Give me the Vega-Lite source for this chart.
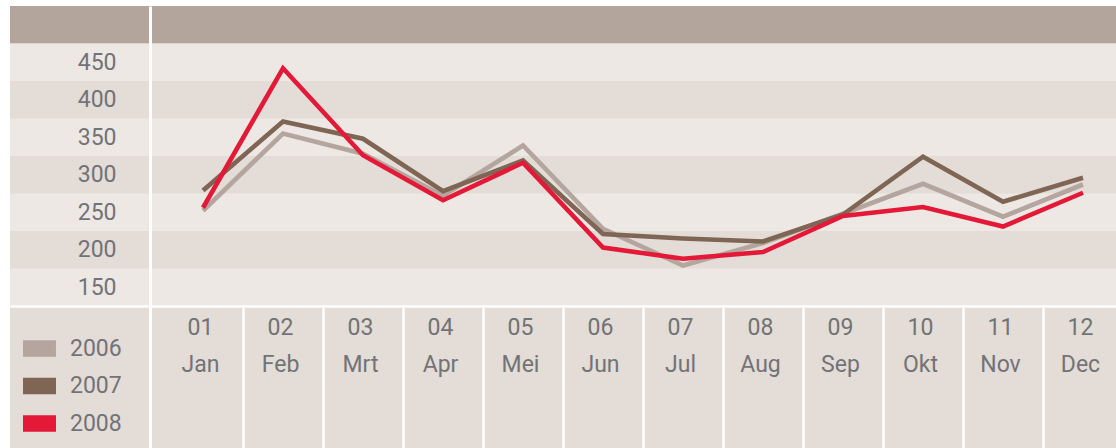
{
  "$schema": "https://vega.github.io/schema/vega-lite/v6.json",
  "width": 1106,
  "height": 442,
  "autosize": {"type": "none"},
  "padding": {"left": 10, "top": 6, "right": 0, "bottom": 0},
  "background": "#ffffff",
  "view": {"fill": "#e3dcd7", "stroke": null},
  "config": {
    "font": "Roboto",
    "axis": {"labelFont": "Roboto", "labelFontWeight": 400, "labelFontSize": 23, "labelColor": "#727376"},
    "legend": {"labelFont": "Roboto", "labelFontWeight": 400, "labelFontSize": 23, "labelColor": "#727376"}
  },
  "datasets": {
    "bands": [
      {"lo": 475, "hi": 525, "tone": "head"},
      {"lo": 425, "hi": 475, "tone": "light"},
      {"lo": 375, "hi": 425, "tone": "dark"},
      {"lo": 325, "hi": 375, "tone": "light"},
      {"lo": 275, "hi": 325, "tone": "dark"},
      {"lo": 225, "hi": 275, "tone": "light"},
      {"lo": 175, "hi": 225, "tone": "dark"},
      {"lo": 125, "hi": 175, "tone": "light"}
    ],
    "series": [
      {"month": 1, "year": "2006", "value": 252},
      {"month": 2, "year": "2006", "value": 355},
      {"month": 3, "year": "2006", "value": 328},
      {"month": 4, "year": "2006", "value": 272},
      {"month": 5, "year": "2006", "value": 339},
      {"month": 6, "year": "2006", "value": 228},
      {"month": 7, "year": "2006", "value": 179},
      {"month": 8, "year": "2006", "value": 209},
      {"month": 9, "year": "2006", "value": 248},
      {"month": 10, "year": "2006", "value": 288},
      {"month": 11, "year": "2006", "value": 244},
      {"month": 12, "year": "2006", "value": 287},
      {"month": 1, "year": "2007", "value": 279},
      {"month": 2, "year": "2007", "value": 371},
      {"month": 3, "year": "2007", "value": 348},
      {"month": 4, "year": "2007", "value": 278},
      {"month": 5, "year": "2007", "value": 319},
      {"month": 6, "year": "2007", "value": 221},
      {"month": 7, "year": "2007", "value": 215},
      {"month": 8, "year": "2007", "value": 211},
      {"month": 9, "year": "2007", "value": 247},
      {"month": 10, "year": "2007", "value": 324},
      {"month": 11, "year": "2007", "value": 264},
      {"month": 12, "year": "2007", "value": 296},
      {"month": 1, "year": "2008", "value": 256},
      {"month": 2, "year": "2008", "value": 442},
      {"month": 3, "year": "2008", "value": 326},
      {"month": 4, "year": "2008", "value": 266},
      {"month": 5, "year": "2008", "value": 316},
      {"month": 6, "year": "2008", "value": 203},
      {"month": 7, "year": "2008", "value": 188},
      {"month": 8, "year": "2008", "value": 197},
      {"month": 9, "year": "2008", "value": 245},
      {"month": 10, "year": "2008", "value": 257},
      {"month": 11, "year": "2008", "value": 231},
      {"month": 12, "year": "2008", "value": 276}
    ]
  },
  "layer": [
    {
      "data": {"name": "bands"},
      "mark": {"type": "rect"},
      "encoding": {
        "y": {"field": "lo", "type": "quantitative", "scale": {"domain": [-64.333, 525], "nice": false, "zero": false}},
        "y2": {"field": "hi"},
        "fill": {"field": "tone", "type": "nominal", "scale": {"domain": ["head", "light", "dark"], "range": ["#b3a49c", "#ede8e4", "#e3dcd7"]}, "legend": null}
      }
    },
    {
      "data": {"name": "series"},
      "mark": {"type": "line", "strokeWidth": 4.6, "strokeJoin": "miter"},
      "encoding": {
        "x": {
          "field": "month", "type": "quantitative",
          "scale": {"domain": [-1.4125, 12.4125], "nice": false, "zero": false},
          "axis": {
            "title": null, "orient": "bottom", "offset": -142, "zindex": 1,
            "values": [1, 2, 3, 4, 5, 6, 7, 8, 9, 10, 11, 12],
            "labelExpr": "[(datum.value < 10 ? '0' : '') + datum.value, ['Jan','Feb','Mrt','Apr','Mei','Jun','Jul','Aug','Sep','Okt','Nov','Dec'][datum.value - 1]]",
            "labelLineHeight": 37, "labelBaseline": "top", "labelPadding": -132,
            "labelOverlap": false, "labelFlush": false,
            "tickOffset": 40, "labelOffset": -43,
            "ticks": true, "tickColor": "#ffffff", "tickWidth": 2.5, "tickSize": 142,
            "domain": true, "domainColor": "#ffffff", "domainWidth": 2.5,
            "grid": false
          }
        },
        "y": {
          "field": "value", "type": "quantitative",
          "axis": {
            "title": null, "orient": "left", "offset": -140, "zindex": 1,
            "values": [150, 200, 250, 300, 350, 400, 450],
            "ticks": false, "labelPadding": 34, "labelOverlap": false, "labelFlush": false,
            "domain": true, "domainColor": "#ffffff", "domainWidth": 3,
            "grid": false
          }
        },
        "stroke": {
          "field": "year", "type": "nominal",
          "scale": {"domain": ["2006", "2007", "2008"], "range": ["#b4a69e", "#7f6554", "#e31937"]},
          "legend": {
            "title": null, "orient": "none", "legendX": 18, "legendY": 331,
            "symbolType": "M-2,-1H2V1H-2Z", "symbolSize": 272, "symbolStrokeWidth": 0,
            "labelOffset": 19, "rowPadding": 13.5, "padding": 0,
            "encode": {"symbols": {"update": {"fill": {"scale": "stroke", "field": "value"}, "fillOpacity": {"value": 1}}}}
          }
        }
      }
    }
  ]
}
